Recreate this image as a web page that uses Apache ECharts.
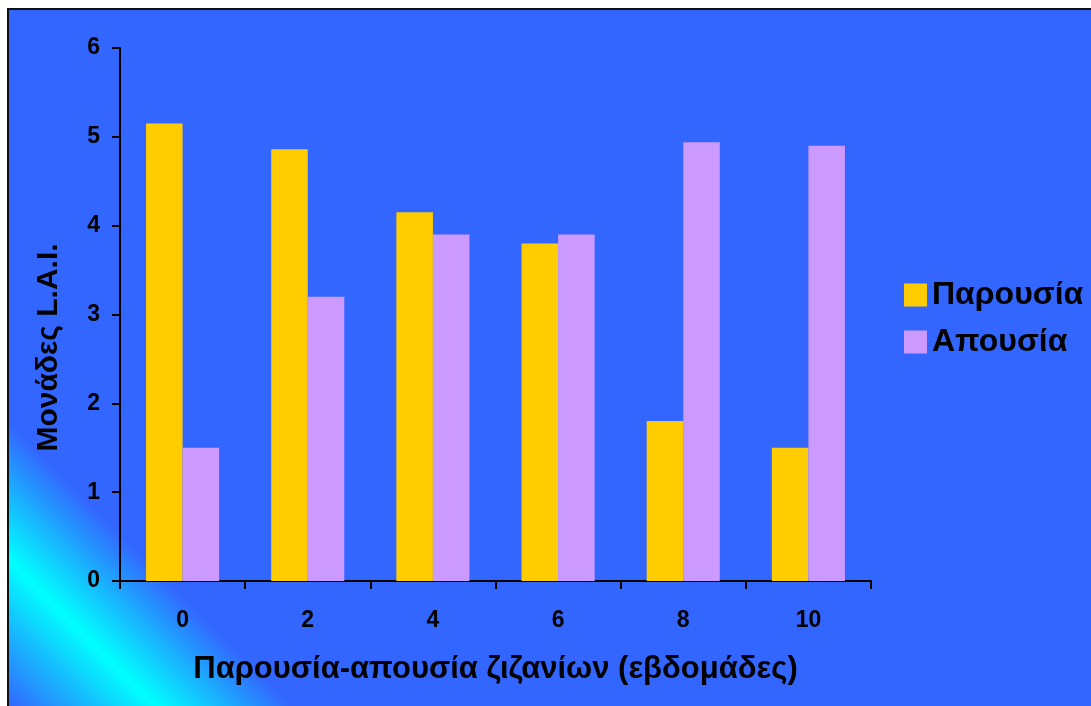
<!DOCTYPE html>
<html>
<head>
<meta charset="utf-8">
<script src="https://cdn.jsdelivr.net/npm/echarts@6/dist/echarts.min.js"></script>
<style>
  html, body { margin: 0; padding: 0; background: #ffffff; }
  #chart { width: 1091px; height: 706px; }
</style>
</head>
<body>
<div id="chart"></div>
<script>
// Weeks of weed presence / absence
const weeks = ['0', '2', '4', '6', '8', '10'];
// Leaf area index (L.A.I.) with weeds present
const presence = [5.15, 4.86, 4.15, 3.80, 1.80, 1.50];
// Leaf area index (L.A.I.) with weeds absent
const absence = [1.50, 3.20, 3.90, 3.90, 4.94, 4.90];
const yTicks = [0, 1, 2, 3, 4, 5, 6];

const FONT = '"Liberation Sans", Arial, sans-serif';
const chart = echarts.init(document.getElementById('chart'), null, { renderer: 'canvas' });

chart.setOption({
  backgroundColor: '#ffffff',
  animation: false,
  graphic: [{
    type: 'rect',
    z: -10,
    silent: true,
    shape: { x: 8, y: 9, width: 1100, height: 720 },
    style: {
      stroke: '#111111',
      lineWidth: 2,
      fill: {
        type: 'linear',
        global: true,
        x: 8, y: 706, x2: 150, y2: 564,
        colorStops: [
          { offset: 0, color: '#3366ff' },
          { offset: 0.52, color: '#00ffff' },
          { offset: 1, color: '#3366ff' }
        ]
      }
    }
  }],
  grid: { left: 120, top: 48, right: 220, bottom: 125, containLabel: false },
  legend: {
    orient: 'vertical',
    left: 899,
    top: 274,
    itemWidth: 23,
    itemHeight: 23,
    itemGap: 15,
    icon: 'rect',
    textStyle: { fontFamily: FONT, fontWeight: 'bold', fontSize: 32, color: '#000000' },
    data: ['Παρουσία', 'Απουσία']
  },
  xAxis: {
    type: 'category',
    data: weeks,
    name: 'Παρουσία-απουσία ζιζανίων (εβδομάδες)',
    nameLocation: 'middle',
    nameGap: 73,
    nameTextStyle: { fontFamily: FONT, fontWeight: 'bold', fontSize: 31, color: '#000000' },
    axisLine: { lineStyle: { color: '#000000', width: 2 } },
    axisTick: { show: true, length: 8, lineStyle: { color: '#000000', width: 2 } },
    axisLabel: { margin: 28, fontFamily: FONT, fontWeight: 'bold', fontSize: 23, color: '#000000' }
  },
  yAxis: {
    type: 'value',
    min: yTicks[0],
    max: yTicks[yTicks.length - 1],
    interval: 1,
    name: 'Μονάδες L.A.I.',
    nameLocation: 'middle',
    nameGap: 56,
    nameRotate: 90,
    nameTextStyle: {
      fontFamily: FONT, fontWeight: 'bold', fontSize: 30, color: '#000000',
      padding: [0, 66, 0, 0]
    },
    axisLine: { show: true, lineStyle: { color: '#000000', width: 2 } },
    axisTick: { show: true, length: 8, lineStyle: { color: '#000000', width: 2 } },
    splitLine: { show: false },
    axisLabel: { margin: 20, fontFamily: FONT, fontWeight: 'bold', fontSize: 23, color: '#000000' }
  },
  series: [
    {
      name: 'Παρουσία',
      type: 'bar',
      data: presence,
      barGap: '0%',
      barCategoryGap: '41.6%',
      itemStyle: { color: '#ffcc00' }
    },
    {
      name: 'Απουσία',
      type: 'bar',
      data: absence,
      barGap: '0%',
      barCategoryGap: '41.6%',
      itemStyle: { color: '#cc99ff' }
    }
  ]
});
</script>
</body>
</html>
